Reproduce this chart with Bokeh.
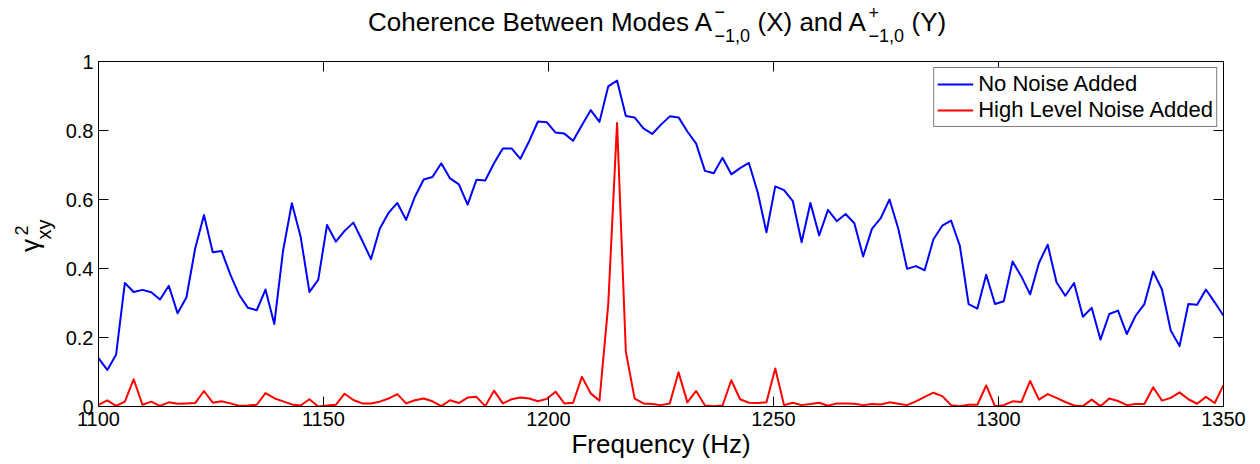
import numpy as np
from bokeh.plotting import figure
from bokeh.layouts import column, row
from bokeh.models import Range1d, LinearAxis, FixedTicker
from bokeh.core.properties import value
from bokeh.embed import file_html
from bokeh.resources import INLINE

# ---- data ----
freq = np.linspace(1100, 1350, 129)  # frequency bins (Hz)

no_noise = [
    0.140, 0.106, 0.150, 0.358, 0.332, 0.338, 0.331, 0.310, 0.350, 0.270,
    0.316, 0.458, 0.555, 0.447, 0.451, 0.382, 0.324, 0.286, 0.279, 0.339,
    0.239, 0.452, 0.589, 0.492, 0.332, 0.367, 0.526, 0.478, 0.509, 0.533,
    0.481, 0.427, 0.515, 0.561, 0.590, 0.541, 0.608, 0.658, 0.665, 0.705,
    0.661, 0.644, 0.585, 0.657, 0.655, 0.705, 0.748, 0.748, 0.718, 0.769,
    0.826, 0.824, 0.794, 0.791, 0.770, 0.815, 0.859, 0.825, 0.928, 0.945,
    0.842, 0.838, 0.806, 0.790, 0.817, 0.841, 0.838, 0.797, 0.762, 0.683,
    0.676, 0.721, 0.673, 0.691, 0.706, 0.621, 0.505, 0.638, 0.627, 0.595,
    0.476, 0.590, 0.496, 0.570, 0.537, 0.558, 0.531, 0.435, 0.515, 0.546,
    0.600, 0.515, 0.399, 0.407, 0.395, 0.485, 0.524, 0.539, 0.466, 0.297,
    0.284, 0.382, 0.297, 0.305, 0.420, 0.377, 0.325, 0.416, 0.469, 0.360,
    0.321, 0.358, 0.260, 0.286, 0.194, 0.268, 0.278, 0.210, 0.263, 0.297,
    0.391, 0.339, 0.220, 0.175, 0.297, 0.295, 0.339, 0.302, 0.263,
]

high_noise = [
    0.005, 0.018, 0.002, 0.014, 0.079, 0.005, 0.014, 0.002, 0.012, 0.008,
    0.009, 0.010, 0.045, 0.011, 0.015, 0.009, 0.002, 0.003, 0.005, 0.039,
    0.024, 0.015, 0.006, 0.003, 0.021, 0.000, 0.003, 0.005, 0.037, 0.019,
    0.009, 0.009, 0.014, 0.023, 0.036, 0.009, 0.018, 0.023, 0.015, 0.001,
    0.018, 0.010, 0.026, 0.028, 0.001, 0.046, 0.009, 0.021, 0.026, 0.023,
    0.015, 0.022, 0.043, 0.009, 0.011, 0.086, 0.038, 0.017, 0.297, 0.822,
    0.159, 0.023, 0.009, 0.007, 0.004, 0.009, 0.099, 0.012, 0.045, 0.003,
    0.001, 0.003, 0.076, 0.021, 0.011, 0.010, 0.012, 0.110, 0.004, 0.011,
    0.004, 0.007, 0.011, 0.002, 0.009, 0.009, 0.008, 0.004, 0.007, 0.006,
    0.012, 0.008, 0.004, 0.015, 0.028, 0.040, 0.030, 0.004, 0.001, 0.005,
    0.005, 0.061, 0.001, 0.004, 0.015, 0.013, 0.074, 0.020, 0.036, 0.025,
    0.013, 0.003, 0.001, 0.020, 0.001, 0.023, 0.016, 0.004, 0.007, 0.007,
    0.056, 0.017, 0.025, 0.041, 0.021, 0.008, 0.028, 0.010, 0.062,
]

x_ticks = [1100, 1150, 1200, 1250, 1300, 1350]
y_ticks = [0, 0.2, 0.4, 0.6, 0.8, 1]
y_tick_labels = ["0", "0.2", "0.4", "0.6", "0.8", "1"]

FONT = "Liberation Sans"

# ---- layout geometry (pixels) ----
W, H = 1260, 464
TITLE_H = 48          # height of the title strip
YLAB_W = 62           # width of the y-label strip
L, R, T, B = 97, 1223, 61, 406   # plot frame in page pixels
X0, X1, Y0, Y1 = 1100, 1350, 0, 1


def blank_fig(w, h, y_lo, y_hi, **borders):
    f = figure(width=w, height=h, x_range=Range1d(0, w), y_range=Range1d(y_lo, y_hi),
               x_axis_type=None, y_axis_type=None, output_backend="svg",
               toolbar_location=None, min_border=0, title=None, **borders)
    f.outline_line_color = None
    f.xgrid.visible = False
    f.ygrid.visible = False
    f.background_fill_color = "white"
    f.border_fill_color = "white"
    return f


# ---- main plot ----
p = figure(width=W - YLAB_W, height=H - TITLE_H, title=None,
           x_range=Range1d(X0, X1), y_range=Range1d(Y0, Y1),
           output_backend="svg", toolbar_location=None,
           min_border_left=L - YLAB_W, min_border_right=W - R,
           min_border_top=T - TITLE_H, min_border_bottom=H - B)
p.xgrid.visible = False
p.ygrid.visible = False
p.outline_line_color = "black"
p.outline_line_width = 1
p.background_fill_color = "white"
p.border_fill_color = "white"

p.line(freq, no_noise, line_color="#0000ff", line_width=2, line_join="round",
       legend_label="No Noise Added")
p.line(freq, high_noise, line_color="#ff0000", line_width=2, line_join="round",
       legend_label="High Level Noise Added")


def style_axis(ax, ticks):
    ax.ticker = FixedTicker(ticks=ticks)
    ax.minor_tick_line_color = None
    ax.major_tick_in = 10
    ax.major_tick_out = 0
    ax.major_tick_line_color = "black"
    ax.axis_line_color = "black"
    ax.major_label_text_font = FONT
    ax.major_label_text_font_size = "20px"
    ax.major_label_text_color = "black"
    ax.major_label_standoff = 5


xa = p.xaxis[0]
style_axis(xa, x_ticks)
xa.axis_label = "Frequency (Hz)"
xa.axis_label_text_font = FONT
xa.axis_label_text_font_size = "26px"
xa.axis_label_text_font_style = "normal"
xa.axis_label_text_color = "black"
xa.axis_label_standoff = 0

ya = p.yaxis[0]
style_axis(ya, y_ticks)
ya.major_label_overrides = dict(zip(y_ticks, y_tick_labels))

top = LinearAxis()
style_axis(top, x_ticks)
top.major_label_overrides = {t: "" for t in x_ticks}
top.major_label_text_font_size = "0px"
top.major_label_standoff = 0
p.add_layout(top, "above")

right = LinearAxis()
style_axis(right, y_ticks)
right.major_label_overrides = {t: "" for t in y_ticks}
right.major_label_text_font_size = "0px"
right.major_label_standoff = 0
p.add_layout(right, "right")

lg = p.legend[0]
lg.location = "top_right"
lg.margin = 6
lg.padding = 3
lg.spacing = 0
lg.glyph_width = 36
lg.glyph_height = 24
lg.label_height = 24
lg.label_standoff = 5
lg.label_text_font = FONT
lg.label_text_font_size = "22px"
lg.label_text_color = "black"
lg.border_line_color = "black"
lg.border_line_width = 1
lg.background_fill_color = "white"
lg.background_fill_alpha = 1

# ---- title strip (page pixels; py = vertical centre of the text line) ----
tf = blank_fig(W, TITLE_H, 0, TITLE_H)


def title_text(txt, px, py, size, align="left"):
    tf.text(x=[px], y=[TITLE_H - py], text=[txt], text_font=value(FONT),
            text_font_size=value(f"{size}px"), text_color="black",
            text_align=align, text_baseline="middle")


title_text("Coherence Between Modes A", 713, 21, 26, align="right")
title_text("\u2212", 714, 11, 18)
title_text("\u22121,0", 714, 35, 18)
title_text("(X) and A", 757, 21, 26)
title_text("+", 868, 12, 18)
title_text("\u22121,0", 868, 35, 18)
title_text("(Y)", 911, 21, 26)

# ---- y-label strip: gamma^2_xy rotated (px, py = centre of each piece) ----
# its frame is aligned with the main plot frame (page rows T..B)
yf = blank_fig(YLAB_W, H - TITLE_H, H - B, H - T,
               min_border_top=T - TITLE_H, min_border_bottom=H - B)


def ylab_text(txt, px, py, size):
    yf.text(x=[px], y=[H - py], text=[txt], text_font=value(FONT),
            text_font_size=value(f"{size}px"), text_color="black",
            text_align="center", text_baseline="middle", angle=np.pi / 2)


ylab_text("\u03b3", 29, 245, 26)
ylab_text("2", 21, 230, 18)
ylab_text("xy", 43, 229, 20)

layout = column(tf, row(yf, p, spacing=0), spacing=0)
open("out.html", "w").write(file_html(layout, INLINE))
